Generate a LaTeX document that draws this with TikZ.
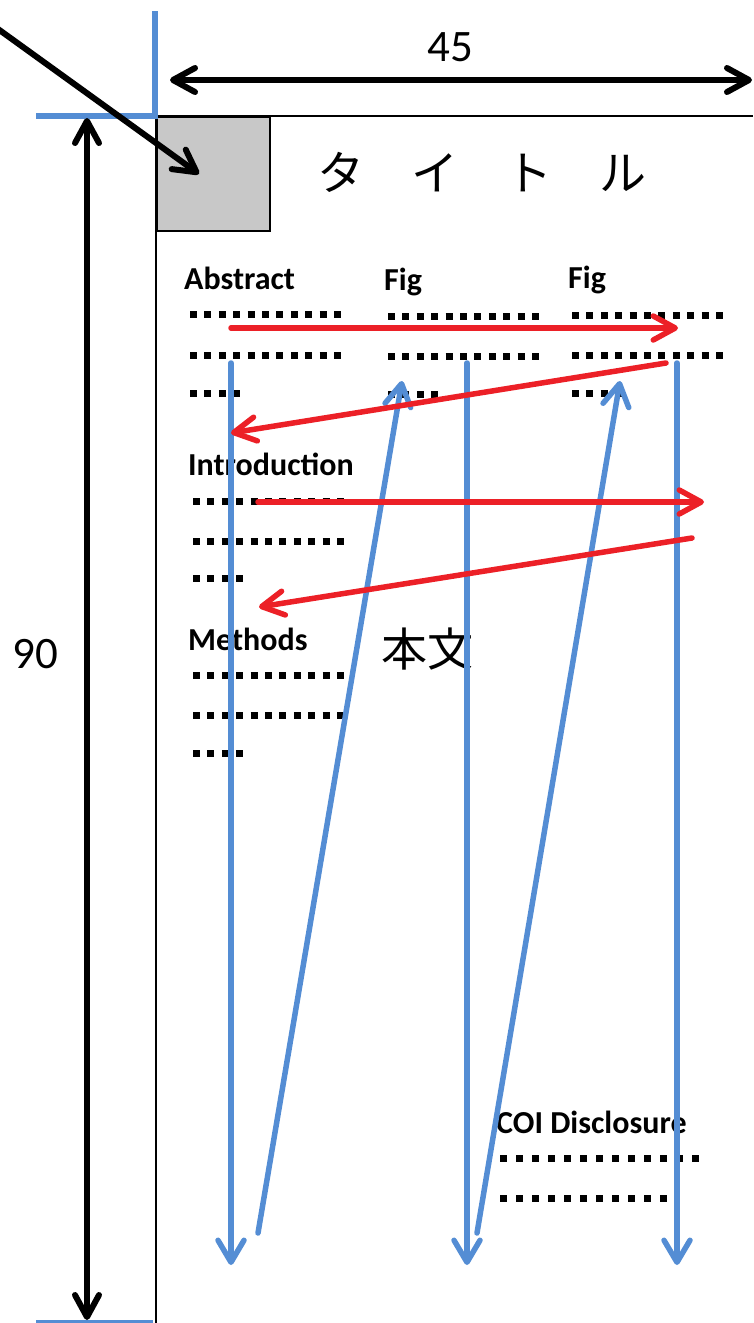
\documentclass[tikz,border=0pt]{standalone}
\usepackage{fontspec}
\setmainfont{Carlito}
\newfontfamily\jpfont{Noto Sans CJK JP}
\usetikzlibrary{arrows.meta}
\definecolor{lineblue}{RGB}{84,141,212}
\definecolor{linered}{RGB}{236,32,39}
\definecolor{boxgray}{RGB}{200,200,200}
\tikzset{
  seclabel/.style={font=\bfseries\fontsize{32}{36}\selectfont, inner sep=0pt, anchor=base west},
  dimtext/.style={font=\fontsize{45}{50}\selectfont, inner sep=0pt, anchor=base},
  jptext/.style={inner sep=0pt},
  dotrow/.style={line width=7pt, dash pattern=on 7pt off 7.4pt},
  dotrowwide/.style={line width=7pt, dash pattern=on 7pt off 9pt},
  pageline/.style={draw=black, line width=2pt},
  cornerline/.style={draw=lineblue, line width=5.5pt},
  blueflow/.style={draw=lineblue, line width=5.5pt, line cap=round, -{Straight Barb[length=22pt,width=26pt,round]}},
  redflow/.style={draw=linered, line width=5.5pt, line cap=round, -{Straight Barb[length=22pt,width=24pt,round]}},
  dimarrow/.style={draw=black, line width=6pt, {Straight Barb[length=22pt,width=24pt,round]}-{Straight Barb[length=22pt,width=24pt,round]}},
  pointarrow/.style={draw=black, line width=6pt, line cap=round, -{Straight Barb[length=22pt,width=24pt,round]}},
}
\begin{document}
\begin{tikzpicture}[x=1pt,y=-1pt]
\useasboundingbox (0,0) rectangle (753,1323);

% page outline
\coordinate (pbl) at (156,1323);
\coordinate (ptl) at (156,116);
\coordinate (ptr) at (753,116);
\draw[pageline] (pbl) -- (ptl) -- (ptr);

% grey square
\node[draw=black, line width=2pt, fill=boxgray, minimum width=113pt, minimum height=114pt, inner sep=0pt, anchor=north west] (sq) at (156,116) {};

% blue corner marks
\coordinate (cv1) at (155,11);
\coordinate (cv2) at (155,116);
\coordinate (ch1) at (36,116);
\draw[cornerline] (cv1) -- (cv2) -- (ch1);
\coordinate (cb1) at (36,1321.5);
\coordinate (cb2) at (153,1321.5);
\draw[draw=lineblue, line width=3pt] (cb1) -- (cb2);

% title
\node[jptext, font=\jpfont\fontsize{47}{52}\selectfont, anchor=base west] (title) at (317,190) {タ　イ　ト　ル};

% section labels
\node[seclabel] (abs) at (184,289) {Abstract};
\node[seclabel] (fig1) at (384,290) {Fig};
\node[seclabel] (fig2) at (568,288) {Fig};
\node[seclabel] (intro) at (188,475) {Introduction};
\node[seclabel] (meth) at (188,650) {Methods};
\node[seclabel] (coi) at (496,1133) {COI Disclosure};

% body text
\begin{scope}
  \clip (370,600) rectangle (472,700);
  \node[jptext, font=\jpfont\fontsize{46}{50}\selectfont, anchor=base west] (body) at (381,666) {本文};
\end{scope}

% dotted text rows
\draw[dotrow] (190,314) -- ++(151,0);
\draw[dotrow] (190,355) -- ++(151,0);
\draw[dotrow] (190,393.5) -- ++(50.2,0);
\draw[dotrow] (388,316) -- ++(151,0);
\draw[dotrow] (388,356.5) -- ++(151,0);
\draw[dotrow] (388,394) -- ++(50.2,0);
\draw[dotrow] (572,315) -- ++(151,0);
\draw[dotrow] (572,355) -- ++(151,0);
\draw[dotrow] (572,393.5) -- ++(50.2,0);
\draw[dotrow] (193,501) -- ++(151,0);
\draw[dotrow] (193,541) -- ++(151,0);
\draw[dotrow] (193,578.5) -- ++(50.2,0);
\draw[dotrow] (193,675) -- ++(151,0);
\draw[dotrow] (193,715) -- ++(151,0);
\draw[dotrow] (193,753) -- ++(50.2,0);
\draw[dotrowwide] (500,1158.5) -- ++(199,0);
\draw[dotrowwide] (500,1198.5) -- ++(167,0);

% blue reading flow
\coordinate (v1s) at (231,363);  \coordinate (v1e) at (231,1265);
\coordinate (v2s) at (467,363);  \coordinate (v2e) at (467,1265);
\coordinate (v3s) at (677,363);  \coordinate (v3e) at (677,1265);
\coordinate (d1s) at (258,1233); \coordinate (d1e) at (402,381);
\coordinate (d2s) at (477,1233); \coordinate (d2e) at (620,381);
\draw[blueflow] (v1s) -- (v1e);
\draw[blueflow] (v2s) -- (v2e);
\draw[blueflow] (v3s) -- (v3e);
\draw[blueflow] (d1s) -- (d1e);
\draw[blueflow] (d2s) -- (d2e);

% red reading flow
\coordinate (r1s) at (231,328); \coordinate (r1e) at (678,328);
\coordinate (r2s) at (666,363); \coordinate (r2e) at (231,433);
\coordinate (r3s) at (258,502); \coordinate (r3e) at (704,502);
\coordinate (r4s) at (692,538); \coordinate (r4e) at (259,607);
\draw[redflow] (r1s) -- (r1e);
\draw[redflow] (r2s) -- (r2e);
\draw[redflow] (r3s) -- (r3e);
\draw[redflow] (r4s) -- (r4e);

% dimensions
\coordinate (hw) at (170,80); \coordinate (he) at (752,80);
\draw[dimarrow] (hw) -- (he);
\node[dimtext] (w45) at (450,61) {45};
\coordinate (vt) at (87,118); \coordinate (vb) at (87,1320);
\draw[dimarrow] (vt) -- (vb);
\node[dimtext] (h90) at (35,668) {90};

% pointer arrow to the square
\coordinate (pa) at (-2,29); \coordinate (pb) at (199,174);
\draw[pointarrow] (pa) -- (pb);
\end{tikzpicture}
\end{document}
